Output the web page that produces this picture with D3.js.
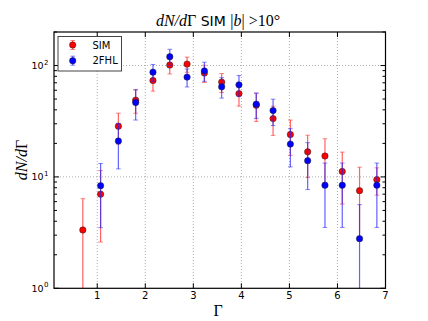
<!DOCTYPE html>
<html><head><meta charset="utf-8">
<script src="https://cdn.jsdelivr.net/npm/d3@7"></script>
<style>body{margin:0;background:#fff}svg{display:block}</style>
</head><body>
<script>
const gamma   = [0.70,1.07,1.44,1.80,2.16,2.51,2.87,3.23,3.59,3.95,4.31,4.66,5.02,5.38,5.74,6.10,6.46,6.82];
const simVal  = [3.34,7.0,28.5,48.9,73.3,101,103,85.5,71,56,44,33.4,24,16.8,15.4,11.2,7.53,9.46];
const simErr  = [3.04,4.4,8.8,11.6,14.4,17,16,15,13.7,12.8,12.5,9.8,8.4,6.9,6.6,5.5,4.7,2.6];
const fhlVal  = [null,8.35,21.0,46.5,87.2,120,78.7,89.6,64.4,67.1,45,39.4,19.7,14.0,8.42,8.42,2.79,8.42];
const fhlErr  = [null,4.85,9.2,14.1,15,20,14.5,17.5,13.4,14.2,11.5,10.5,7.4,6.3,4.9,4.9,2.85,4.9];
const xTicks = [1,2,3,4,5,6,7];
const yMajor = [1,10,100];
const legendLabels = ["SIM","2FHL"];

const W=428,H=321;
const m={l:54,r:385.5,t:32,b:288.3};
const svg=d3.select("body").append("svg").attr("width",W).attr("height",H);
const x=d3.scaleLinear().domain([0.1,7]).range([m.l,m.r]);
const y=d3.scaleLog().domain([1,200]).range([m.b,m.t]);

svg.append("clipPath").attr("id","c").append("rect")
  .attr("x",m.l).attr("y",m.t).attr("width",m.r-m.l).attr("height",m.b-m.t);

// grid
const g=svg.append("g");
g.selectAll("line.gx").data(xTicks.filter(d=>d<7)).join("line")
  .attr("x1",d=>x(d)).attr("x2",d=>x(d)).attr("y1",m.t).attr("y2",m.b)
  .attr("stroke","#999").attr("stroke-width",0.8).attr("stroke-dasharray","1,2");
g.selectAll("line.gy").data([10,100]).join("line")
  .attr("y1",d=>y(d)).attr("y2",d=>y(d)).attr("x1",m.l).attr("x2",m.r)
  .attr("stroke","#999").attr("stroke-width",0.8).attr("stroke-dasharray","1,2");

// data
const plot=svg.append("g").attr("clip-path","url(#c)");
function series(vals,errs,col,ecol){
  const d=gamma.map((g,i)=>({g,v:vals[i],e:errs[i]})).filter(o=>o.v!=null);
  const gg=plot.append("g");
  const lo=o=>Math.max(o.v-o.e,0.01);
  gg.selectAll("line.e").data(d).join("line")
    .attr("x1",o=>x(o.g)).attr("x2",o=>x(o.g))
    .attr("y1",o=>y(lo(o))).attr("y2",o=>y(o.v+o.e))
    .attr("stroke",ecol).attr("stroke-width",1.2).attr("opacity",0.7);
  [o=>o.v+o.e, lo].forEach(f=>{
    gg.selectAll(null).data(d).join("line")
      .attr("x1",o=>x(o.g)-2.3).attr("x2",o=>x(o.g)+2.3)
      .attr("y1",o=>y(f(o))).attr("y2",o=>y(f(o)))
      .attr("stroke",ecol).attr("stroke-width",1).attr("opacity",0.55);
  });
  return {gg,d};
}
const s1=series(simVal,simErr,"#f00","#f22");
const s2=series(fhlVal,fhlErr,"#00f","#22f");
s1.gg.selectAll("circle").data(s1.d).join("circle")
  .attr("cx",o=>x(o.g)).attr("cy",o=>y(o.v)).attr("r",3.2)
  .attr("fill","#f00").attr("stroke","#222").attr("stroke-width",0.5);
s2.gg.selectAll("circle").data(s2.d).join("circle")
  .attr("cx",o=>x(o.g)).attr("cy",o=>y(o.v)).attr("r",3.2)
  .attr("fill","#00f").attr("stroke","#222").attr("stroke-width",0.5);

// frame
svg.append("rect").attr("x",m.l).attr("y",m.t).attr("width",m.r-m.l).attr("height",m.b-m.t)
  .attr("fill","none").attr("stroke","#000").attr("stroke-width",1.2);

// ticks (inward, all sides)
const tk=svg.append("g").attr("stroke","#000").attr("stroke-width",1);
xTicks.forEach(t=>{
  tk.append("line").attr("x1",x(t)).attr("x2",x(t)).attr("y1",m.b).attr("y2",m.b-5);
  tk.append("line").attr("x1",x(t)).attr("x2",x(t)).attr("y1",m.t).attr("y2",m.t+5);
});
const minor=[];
[1,10,100].forEach(dec=>{for(let k=2;k<=9;k++){const v=dec*k; if(v<=200) minor.push(v);}});
yMajor.forEach(v=>{
  tk.append("line").attr("x1",m.l).attr("x2",m.l+5).attr("y1",y(v)).attr("y2",y(v));
  tk.append("line").attr("x1",m.r).attr("x2",m.r-5).attr("y1",y(v)).attr("y2",y(v));
});
minor.forEach(v=>{
  tk.append("line").attr("x1",m.l).attr("x2",m.l+3).attr("y1",y(v)).attr("y2",y(v));
  tk.append("line").attr("x1",m.r).attr("x2",m.r-3).attr("y1",y(v)).attr("y2",y(v));
});

// tick labels
const sans="'DejaVu Sans',sans-serif";
svg.append("g").selectAll("text").data(xTicks).join("text")
  .attr("x",d=>x(d)).attr("y",298.5).attr("text-anchor","middle")
  .attr("font-family",sans).attr("font-size",10).text(d=>d);
yMajor.forEach((v,i)=>{
  svg.append("text").attr("x",43.5).attr("y",y(v)+3.5).attr("text-anchor","end")
    .attr("font-family",sans).attr("font-size",9.5).text("10");
  svg.append("text").attr("x",44).attr("y",y(v)-1).attr("font-family",sans)
    .attr("font-size",7).text(String(i));
});

// labels
const serif="'Liberation Serif','DejaVu Serif',serif";
const title=svg.append("text").attr("x",218).attr("y",26).attr("text-anchor","middle")
  .attr("font-size",16);
title.append("tspan").attr("font-family",serif).attr("font-style","italic").text("dN/d");
title.append("tspan").attr("font-family",serif).text("Γ");
title.append("tspan").attr("font-family",sans).attr("font-size",14).text(" SIM ");
title.append("tspan").attr("font-family",serif).text("|");
title.append("tspan").attr("font-family",serif).attr("font-style","italic").text("b");
title.append("tspan").attr("font-family",serif).text("| >10°");

const yl=svg.append("text").attr("transform","translate(27,160) rotate(-90)")
  .attr("text-anchor","middle").attr("font-size",16).attr("font-family",serif);
yl.append("tspan").attr("font-style","italic").text("dN/d");
yl.append("tspan").text("Γ");
svg.append("text").attr("x",218).attr("y",316).attr("text-anchor","middle")
  .attr("font-family",serif).attr("font-size",16).text("Γ");

// legend
const lg=svg.append("g");
lg.append("rect").attr("x",58).attr("y",36.5).attr("width",63.5).attr("height",34.5)
  .attr("fill","#fff").attr("stroke","#444").attr("stroke-width",1);
[["#f00","#f22",45],["#00f","#22f",60.7]].forEach((c,i)=>{
  const cy=c[2];
  lg.append("line").attr("x1",72.7).attr("x2",72.7).attr("y1",cy-4.5).attr("y2",cy+4.5)
    .attr("stroke",c[1]).attr("stroke-width",1.2).attr("opacity",0.7);
  [cy-4.5,cy+4.5].forEach(yy=>lg.append("line").attr("x1",70.4).attr("x2",75).attr("y1",yy).attr("y2",yy)
    .attr("stroke",c[1]).attr("opacity",0.55));
  lg.append("circle").attr("cx",72.7).attr("cy",cy).attr("r",3.2).attr("fill",c[0])
    .attr("stroke","#222").attr("stroke-width",0.5);
  lg.append("text").attr("x",92.5).attr("y",cy+3.6).attr("font-family",sans).attr("font-size",10)
    .text(legendLabels[i]);
});
</script>
</body></html>
